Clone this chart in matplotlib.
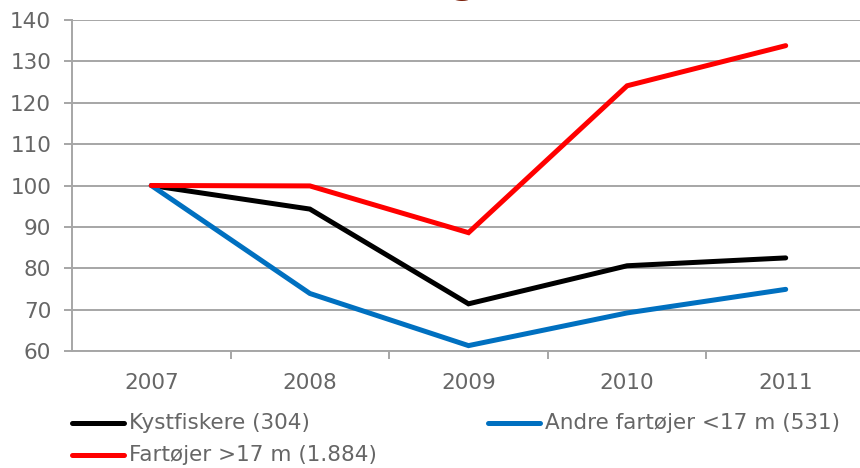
import matplotlib
matplotlib.use("Agg")
import matplotlib.pyplot as plt
from matplotlib.lines import Line2D

years = ["2007", "2008", "2009", "2010", "2011"]
kystfiskere = [100, 94.3, 71.4, 80.6, 82.5]
andre = [100, 73.9, 61.3, 69.2, 74.9]
fartojer = [100, 99.9, 88.6, 124.1, 133.8]
labels = ["Kystfiskere (304)", "Andre fartøjer <17 m (531)", "Fartøjer >17 m (1.884)"]
colors = ["#000000", "#0070C0", "#FF0000"]
yticks = [60, 70, 80, 90, 100, 110, 120, 130, 140]

plt.rcParams['font.family'] = ['DejaVu Sans']
W, H = 860, 468
fig = plt.figure(figsize=(W / 100, H / 100), dpi=100)
ax = fig.add_axes([72 / W, 1 - 351 / H, (865 - 72) / W, (351 - 20) / H])

grid_c = "#A6A6A6"
text_c = "#666666"
fs = 15.5
x = list(range(len(years)))
series = [kystfiskere, andre, fartojer]
for vals, c, lab in zip(series, colors, labels):
    ax.plot(x, vals, color=c, lw=3.6, solid_capstyle='round', solid_joinstyle='miter', label=lab, zorder=3)

ax.set_xlim(-0.5, len(years) - 0.5)
ax.set_ylim(60, 140)
ax.set_yticks(yticks)
ax.set_yticklabels([str(v) for v in yticks])
ax.set_xticks(x)
ax.set_xticklabels(years)
ax.set_xticks([i + 0.5 for i in range(len(years) - 1)], minor=True)
ax.yaxis.grid(True, color=grid_c, lw=1.4)
ax.set_axisbelow(True)
for s in ["top", "right"]:
    ax.spines[s].set_visible(False)
for s in ["left", "bottom"]:
    ax.spines[s].set_color(grid_c)
    ax.spines[s].set_linewidth(1.4)
ax.tick_params(axis='y', which='major', length=6, width=1.4, color=grid_c, labelsize=fs, labelcolor=text_c, pad=9)
ax.tick_params(axis='x', which='major', length=0, labelsize=fs, labelcolor=text_c, pad=16)
ax.tick_params(axis='x', which='minor', length=6, width=1.4, color=grid_c)

# legend
def leg_item(x0, x1, y, color, text):
    fig.add_artist(Line2D([x0 / W, x1 / W], [1 - y / H, 1 - y / H], color=color, lw=3.6,
                          solid_capstyle='round', transform=fig.transFigure))
    fig.text((x1 + 5) / W, 1 - y / H, text, fontsize=fs, color=text_c, va='center', ha='left')

leg_item(72, 124, 423, colors[0], labels[0])
leg_item(488, 540, 423, colors[1], labels[1])
leg_item(72, 124, 455, colors[2], labels[2])

# cut-off title fragment
fig.text(463 / W, 1 + 7 / H, "g", fontsize=28, fontweight='bold', color="#7A1E08", ha='center', va='baseline')

fig.savefig("out.png", dpi=100)
